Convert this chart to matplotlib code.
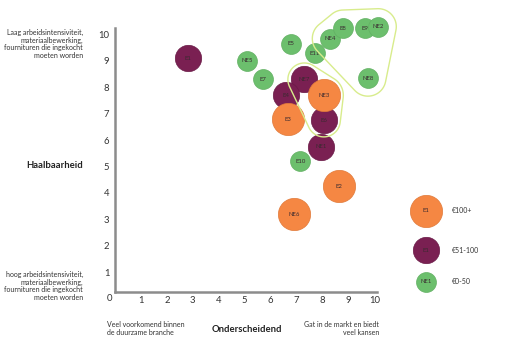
import numpy as np
import matplotlib.pyplot as plt
from matplotlib.patches import Polygon

plt.rcParams['font.family'] = ['Lato', 'DejaVu Sans']

# ideeen: naam, onderscheidend (x), haalbaarheid (y), investering
labels = ['E1', 'NE5', 'E7', 'E5', 'E11', 'NE4', 'E8', 'E9', 'NE2', 'NE8',
          'NE7', 'E4', 'NE3', 'E3', 'E6', 'NE1', 'E10', 'E2', 'NE6']
onderscheidend = [2.8, 5.1, 5.7, 6.8, 7.7, 8.3, 8.8, 9.65, 10.15, 9.75,
                  7.3, 6.6, 8.05, 6.65, 8.05, 7.95, 7.15, 8.65, 6.9]
haalbaarheid = [9.1, 9.0, 8.3, 9.65, 9.3, 9.85, 10.25, 10.25, 10.3, 8.35,
                8.3, 7.7, 7.7, 6.8, 6.75, 5.75, 5.2, 4.25, 3.2]
investering = ['mid', 'low', 'low', 'low', 'low', 'low', 'low', 'low', 'low', 'low',
               'mid', 'mid', 'high', 'high', 'mid', 'mid', 'low', 'high', 'high']

tiers = ['low', 'mid', 'high']
tier_names = {'high': '€100+', 'mid': '€51-100', 'low': '€0-50'}
tier_example = {'high': 'E1', 'mid': 'E1', 'low': 'NE1'}

groep_a = ['NE4', 'E8', 'E9', 'NE2', 'NE8']
groep_b = ['NE7', 'NE3', 'E6']

colors = {'high': '#f58743', 'mid': '#7a2052', 'low': '#6cbf6d'}
edges = {'high': '#e07a3a', 'mid': '#6a1a47', 'low': '#62b063'}
sizes = {'high': 540, 'mid': 360, 'low': 205}
radius_px = {'high': 16.5, 'mid': 13.5, 'low': 10.0}

W, H = 520, 360
fig = plt.figure(figsize=(W / 100, H / 100), dpi=100)
ax = fig.add_axes([115 / W, 1 - 292 / H, (377 - 115) / W, (292 - 28) / H])
ax.set_xlim(0, 10.1)
ax.set_ylim(0.25, 10.25)

for s in ['top', 'right']:
    ax.spines[s].set_visible(False)
for s in ['left', 'bottom']:
    ax.spines[s].set_color('#8c8c8c')
    ax.spines[s].set_linewidth(1.8)
ax.set_xticks(range(1, 11))
ax.set_yticks(range(1, 11))
ax.tick_params(length=0, labelsize=6.8, labelcolor='#333333')
ax.tick_params(axis='y', pad=4)
ax.tick_params(axis='x', pad=3)
ax.text(-0.22, 0.0, '0', ha='center', va='center', fontsize=6.8,
        color='#333333', clip_on=False)

xs = np.array(onderscheidend)
ys = np.array(haalbaarheid)
inv = np.array(investering)
for t in tiers:
    m = inv == t
    ax.scatter(xs[m], ys[m], s=sizes[t], c=colors[t], edgecolors=edges[t],
               linewidths=0.5, clip_on=False, zorder=3)
for lab, x, y in zip(labels, onderscheidend, haalbaarheid):
    ax.text(x, y, lab, ha='center', va='center', fontsize=4.3,
            color='#3a2a30', zorder=4)


def hull(points):
    pts = sorted(map(tuple, points))
    def cross(o, a, b):
        return (a[0] - o[0]) * (b[1] - o[1]) - (a[1] - o[1]) * (b[0] - o[0])
    lower, upper = [], []
    for p in pts:
        while len(lower) >= 2 and cross(lower[-2], lower[-1], p) <= 0:
            lower.pop()
        lower.append(p)
    for p in reversed(pts):
        while len(upper) >= 2 and cross(upper[-2], upper[-1], p) <= 0:
            upper.pop()
        upper.append(p)
    return np.array(lower[:-1] + upper[:-1])


def group_outline(names, pad):
    ang = np.linspace(0, 2 * np.pi, 60, endpoint=False)
    pts = []
    for n in names:
        i = labels.index(n)
        cx, cy = ax.transData.transform((onderscheidend[i], haalbaarheid[i]))
        r = radius_px[investering[i]] + pad
        pts += list(zip(cx + r * np.cos(ang), cy + r * np.sin(ang)))
    h = hull(pts)
    return ax.transData.inverted().transform(h)


for grp, pad in [(groep_a, 8), (groep_b, 3)]:
    poly = Polygon(group_outline(grp, pad), closed=True, fill=False,
                   edgecolor='#d8ec8c', linewidth=1.0, zorder=5, clip_on=False)
    ax.add_patch(poly)

# legenda
leg_x, leg_label_x = 12.0, 13.0
leg_y = {'high': 3.32, 'mid': 1.84, 'low': 0.63}
for t in ['high', 'mid', 'low']:
    ax.scatter([leg_x], [leg_y[t]], s=sizes[t], c=colors[t], edgecolors=edges[t],
               linewidths=0.5, clip_on=False, zorder=3)
    ax.text(leg_x, leg_y[t], tier_example[t], ha='center', va='center',
            fontsize=4.3, color='#3a2a30', zorder=4)
    ax.text(leg_label_x, leg_y[t], tier_names[t], ha='left', va='center',
            fontsize=5, color='#333333', clip_on=False)

small = dict(fontsize=5, color='#333333', linespacing=1.1)
fig.text(83 / W, 1 - 29 / H,
         'Laag arbeidsintensiviteit,\nmateriaalbewerking,\nfournituren die ingekocht\nmoeten worden',
         ha='right', va='top', **small)
fig.text(83 / W, 1 - 271 / H,
         'hoog arbeidsintensiviteit,\nmateriaalbewerking,\nfournituren die ingekocht\nmoeten worden',
         ha='right', va='top', **small)
fig.text(83 / W, 1 - 166 / H, 'Haalbaarheid', ha='right', va='center',
         fontsize=6.8, fontweight='bold', color='#222222')
fig.text(107 / W, 1 - 321 / H, 'Veel voorkomend binnen\nde duurzame branche',
         ha='left', va='top', **small)
fig.text(379 / W, 1 - 321 / H, 'Gat in de markt en biedt\nveel kansen',
         ha='right', va='top', multialignment='right', **small)
fig.text(247 / W, 1 - 329 / H, 'Onderscheidend', ha='center', va='center',
         fontsize=6.8, fontweight='bold', color='#222222')

fig.savefig('out.png', dpi=100)
